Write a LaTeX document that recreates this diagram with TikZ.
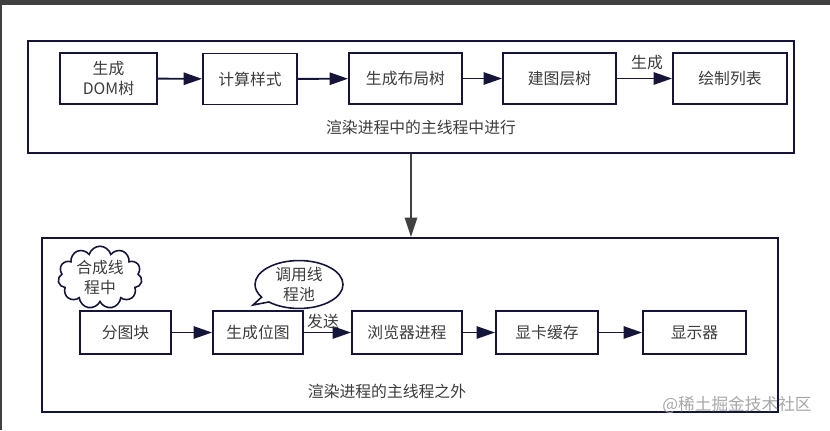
\documentclass[tikz,border=0pt]{standalone}
\usepackage{fontspec}
\setmainfont{Noto Sans CJK SC}
\usetikzlibrary{arrows.meta,shapes.symbols,shapes.callouts}
\definecolor{navy}{HTML}{15153A}
\definecolor{txt}{HTML}{3C3C3C}
\begin{document}
\begin{tikzpicture}[x=0.02cm,y=-0.02cm,
  box/.style={draw=navy,line width=1.1pt,minimum height=1.02cm,inner sep=0pt,
    text=txt,font=\fontsize{9}{11}\selectfont,align=center},
  frame/.style={draw=navy,line width=1.1pt,inner sep=0pt},
  lbl/.style={text=txt,font=\fontsize{9}{11}\selectfont,inner sep=1pt},
  arr/.style={navy,line width=1.1pt,-{Triangle[length=10.5pt,width=7pt]}}]
  \useasboundingbox (0,0) rectangle (830,430);
  \fill[black!75] (0,0) rectangle (830,5);
  \fill[black!75] (0,0) rectangle (2,430);
  % main thread
  \node (main) [frame,minimum width=15.32cm,minimum height=2.24cm] at (411,97) {};
  \node (dom) [box,minimum width=1.94cm] at (108.5,78.5) {生成\\DOM树};
  \node (style) [box,minimum width=1.88cm] at (250,79) {计算样式};
  \node (layout) [box,minimum width=2.26cm] at (405.5,78.5) {生成布局树};
  \node (layer) [box,minimum width=2.26cm] at (559.5,78.5) {建图层树};
  \node (paint) [box,minimum width=2.28cm] at (730,78.5) {绘制列表};
  \draw[arr] (dom) -- (style);
  \draw[arr] (style) -- (layout);
  \draw[arr] (layout) -- (layer);
  \draw[arr] (layer) -- (paint);
  \node (gen) [lbl] at (647,63) {生成};
  \node (inmain) [lbl] at (421,127) {渲染进程中的主线程中进行};
  % outside main thread
  \node (outer) [frame,minimum width=14.72cm,minimum height=3.48cm] at (410,325) {};
  \draw[black!75,line width=1pt,-{Triangle[length=11pt,width=7pt]}]
    (main.south) -- (main.south |- outer.north);
  \node (tile) [box,minimum width=1.82cm,minimum height=0.86cm] at (125.5,332.5) {分图块};
  \node (raster) [box,minimum width=1.80cm,minimum height=0.86cm] at (258,332.5) {生成位图};
  \node (browser) [box,minimum width=2.20cm,minimum height=0.86cm] at (407,332.5) {浏览器进程};
  \node (gpu) [box,minimum width=2.04cm,minimum height=0.86cm] at (547,332.5) {显卡缓存};
  \node (display) [box,minimum width=2.06cm,minimum height=0.86cm] at (694.5,332.5) {显示器};
  \draw[arr] (tile) -- (raster);
  \draw[arr] (raster) -- (browser);
  \draw[arr] (browser) -- (gpu);
  \draw[arr] (gpu) -- (display);
  \node (send) [lbl] at (323,321) {发送};
  \node (outmain) [lbl] at (387,391) {渲染进程的主线程之外};
  \node (compose) [cloud,draw=navy,line width=0.9pt,cloud puffs=11,aspect=1.6,
    minimum width=1.6cm,minimum height=1.02cm,inner sep=0pt,align=center,
    text=txt,font=\fontsize{9}{11}\selectfont] at (100,277.5) {合成线\\程中};
  \coordinate (tip) at (253,305);
  \node (pool) [ellipse callout,draw=navy,line width=0.9pt,callout absolute pointer={(tip)},
    minimum width=1.76cm,minimum height=0.78cm,inner sep=0pt,align=center,
    text=txt,font=\fontsize{9}{11}\selectfont] at (299,284.5) {调用线\\程池};
  \node (mark) [text=black!35,font=\fontsize{9.5}{11}\selectfont] at (737,405) {@稀土掘金技术社区};
\end{tikzpicture}
\end{document}
